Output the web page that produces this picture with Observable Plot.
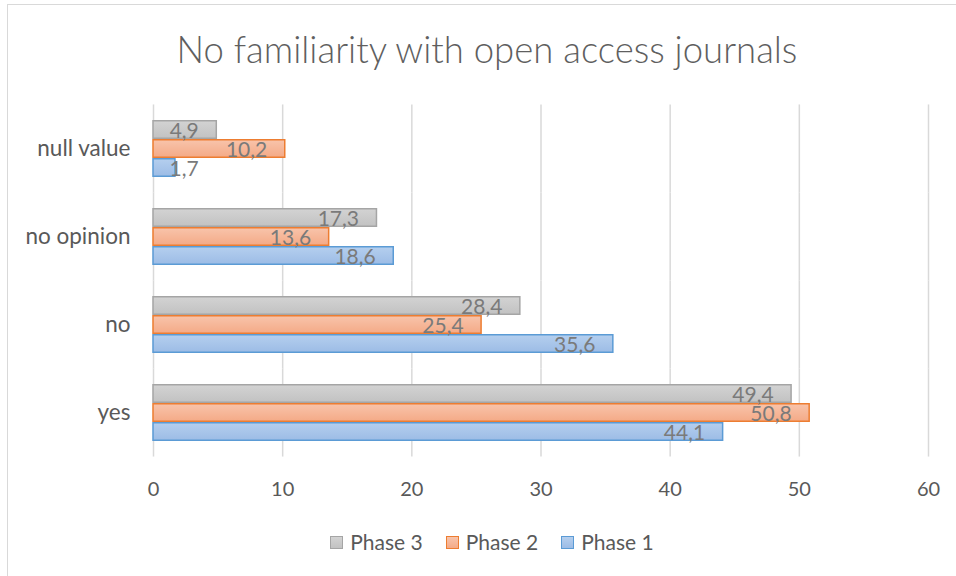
<!DOCTYPE html>
<html>
<head>
<meta charset="utf-8">
<script src="https://cdn.jsdelivr.net/npm/d3@7"></script>
<script src="https://cdn.jsdelivr.net/npm/@observablehq/plot@0.6"></script>
<style>
  html, body { margin: 0; padding: 0; background: #fff; overflow: hidden; }
  body { width: 956px; height: 576px; position: relative; font-family: Lato, "Open Sans", sans-serif; }
  #frame { position: absolute; left: 7px; top: 4px; width: 1000px; height: 1000px; border: 1.5px solid #d9d9d9; box-sizing: border-box; }
  #title { position: absolute; left: 0; top: 26px; width: 974px; text-align: center; font-size: 36.5px; font-weight: 300; color: #5f5f5f; line-height: 46px; }
  #chart { position: absolute; left: 0; top: 84px; }
  #legend { position: absolute; left: 0; top: 530px; width: 984px; display: flex; justify-content: center; gap: 23px; font-size: 21px; color: #595959; line-height: 24px; }
  .item { display: flex; align-items: center; gap: 7px; }
  .swatch { width: 13px; height: 13px; box-sizing: border-box; border: 1.5px solid; }
</style>
</head>
<body>
<div id="frame"></div>
<div id="title">No familiarity with open access journals</div>
<div id="chart"></div>
<div id="legend"></div>
<script>
// Survey answers, top to bottom
const categories = ["null value", "no opinion", "no", "yes"];
// Series, in the order they are stacked inside each group (top first)
const phases = ["Phase 3", "Phase 2", "Phase 1"];
const phase1 = [1.7, 18.6, 35.6, 44.1];
const phase2 = [10.2, 13.6, 25.4, 50.8];
const phase3 = [4.9, 17.3, 28.4, 49.4];
const xTicks = [0, 10, 20, 30, 40, 50, 60];

// Series styling: gradient stops (top, bottom) and outline colour
const seriesStyle = {
  "Phase 3": {id: "grad-p3", top: "#d3d3d3", bottom: "#c2c2c2", stroke: "#a5a5a5"},
  "Phase 2": {id: "grad-p2", top: "#f8c4ab", bottom: "#f4aa87", stroke: "#ed7d31"},
  "Phase 1": {id: "grad-p1", top: "#b5cfee", bottom: "#9cbce6", stroke: "#5b9bd5"}
};

const valuesByPhase = {"Phase 1": phase1, "Phase 2": phase2, "Phase 3": phase3};
const rows = categories.flatMap((category, i) =>
  phases.map(phase => ({category, phase, value: valuesByPhase[phase][i]}))
);

const fmt = v => String(v).replace(".", ",");

// Layout of the group bands
const height = 430, marginTop = 20, marginBottom = 57;
const padInner = 0.33, padOuter = padInner / 2;
const step = (height - marginTop - marginBottom) / (categories.length - padInner + 2 * padOuter);
const halfGap = padInner * step / 2; // grid lines reach across the gaps between groups

const barMarks = phases.map(phase => {
  const s = seriesStyle[phase];
  return Plot.barX(rows.filter(d => d.phase === phase), {
    x: "value", y: "phase", fy: "category",
    fill: `url(#${s.id})`, stroke: s.stroke, strokeWidth: 1.5,
    insetTop: 0.75, insetBottom: 0.75
  });
});

const chart = Plot.plot({
  width: 956,
  height,
  marginLeft: 153,
  marginRight: 28,
  marginTop,
  marginBottom,
  style: {fontFamily: "Lato, 'Open Sans', sans-serif", fontSize: "21px", color: "#595959", background: "transparent"},
  x: {domain: [0, 60], axis: null},
  y: {domain: phases, padding: 0, axis: null},
  fy: {domain: categories, paddingInner: padInner, paddingOuter: padOuter, axis: null, label: null},
  marks: [
    Plot.ruleX(xTicks, {stroke: "#d9d9d9", strokeWidth: 1.5, insetTop: -halfGap, insetBottom: -halfGap}),
    Plot.axisX({ticks: xTicks, tickSize: 0, tickPadding: 39, fontSize: 20, label: null, fill: "#595959"}),
    Plot.axisFy({anchor: "left", tickSize: 0, tickPadding: 23, fontSize: 22.5, label: null, fill: "#595959"}),
    ...barMarks,
    Plot.text(rows.filter(d => d.value >= 4), {
      x: "value", y: "phase", fy: "category", text: d => fmt(d.value),
      textAnchor: "end", dx: -18, dy: 1, fill: "#7a7a7a", fontSize: 21
    }),
    Plot.text(rows.filter(d => d.value < 4), {
      x: () => 0, y: "phase", fy: "category", text: d => fmt(d.value),
      textAnchor: "start", dx: 16, dy: 1, fill: "#7a7a7a", fontSize: 21
    })
  ]
});

// Vertical gradients used as bar fills
const defs = document.createElementNS("http://www.w3.org/2000/svg", "defs");
defs.innerHTML = phases.map(p => {
  const s = seriesStyle[p];
  return `<linearGradient id="${s.id}" x1="0" y1="0" x2="0" y2="1">
    <stop offset="0" stop-color="${s.top}"/><stop offset="1" stop-color="${s.bottom}"/></linearGradient>`;
}).join("");
chart.insertBefore(defs, chart.firstChild);
document.getElementById("chart").appendChild(chart);

// Legend
const legend = d3.select("#legend");
for (const p of phases) {
  const s = seriesStyle[p];
  const item = legend.append("div").attr("class", "item");
  item.append("div").attr("class", "swatch")
    .style("border-color", s.stroke)
    .style("background", `linear-gradient(${s.top}, ${s.bottom})`);
  item.append("span").text(p);
}
</script>
</body>
</html>
